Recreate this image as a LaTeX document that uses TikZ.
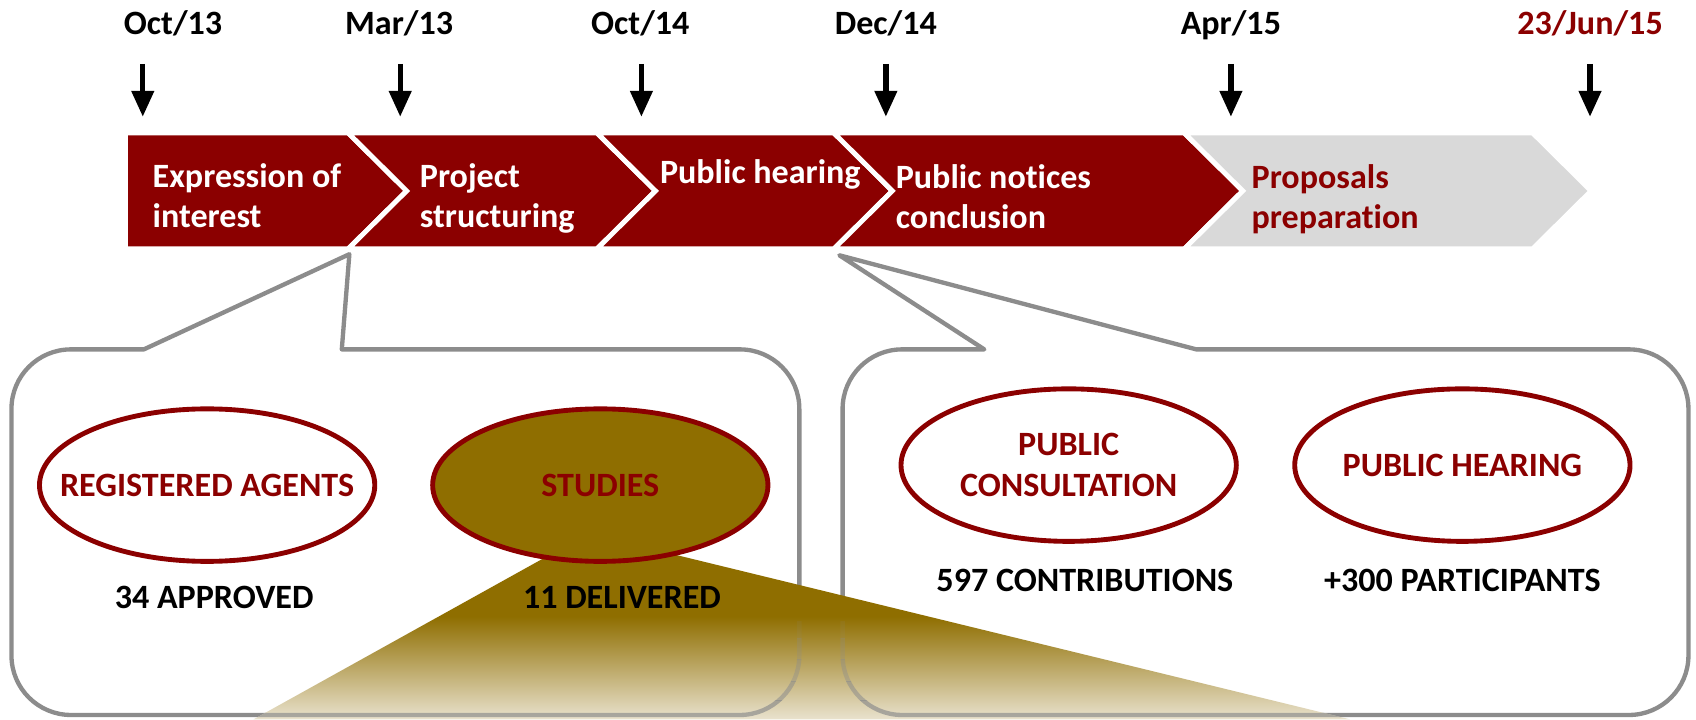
\documentclass[tikz,border=0pt]{standalone}
\usepackage{fontspec}
\setmainfont{Carlito}[Ligatures=NoCommon]
\usepackage{xcolor}
\usepackage{tikz}
\usetikzlibrary{shapes.geometric,arrows.meta}

\definecolor{darkred}{RGB}{139,0,0}
\definecolor{stagegrey}{RGB}{217,217,217}
\definecolor{callgrey}{RGB}{140,140,140}
\definecolor{studyolive}{RGB}{143,110,0}
\definecolor{wedgelight}{RGB}{233,226,206}
\pgfdeclareverticalshading{wedgeshade}{100bp}{color(0bp)=(wedgelight); color(25bp)=(wedgelight);
  color(54.7bp)=(studyolive); color(100bp)=(studyolive)}
% outlines of the two callouts
\newcommand{\leftcall}{(133,323) -- (lapex) -- (316,323) -- (684,323) arc[start angle=-90,end angle=0,radius=55]
  -- (739,606) arc[start angle=0,end angle=90,radius=55] -- (65.6,661) arc[start angle=90,end angle=180,radius=55]
  -- (10.6,378) arc[start angle=180,end angle=270,radius=55] -- cycle}
\newcommand{\rightcall}{(910,323) -- (rapex) -- (1106,323) -- (1506,323) arc[start angle=-90,end angle=0,radius=55]
  -- (1561,606) arc[start angle=0,end angle=90,radius=55] -- (834,661) arc[start angle=90,end angle=180,radius=55]
  -- (779,378) arc[start angle=180,end angle=270,radius=55] -- cycle}

\begin{document}
\begin{tikzpicture}[x=1pt,y=-1pt,
  txt/.style={font=\bfseries\fontsize{31.5}{37.5}\selectfont, inner sep=0pt},
  datelbl/.style={txt, anchor=base},
  datearrow/.style={-{Triangle[width=20pt,length=24pt]}, line width=5pt},
  stage/.style={draw=white, line width=4.5pt, fill=darkred},
  stagetxt/.style={txt, text=white, align=left, anchor=base west},
  callout/.style={draw=callgrey, line width=4pt, line join=round},
  oval/.style={ellipse, draw=darkred, line width=4.5pt, minimum width=310pt, minimum height=141pt, inner sep=0pt},
  ovaltxt/.style={txt, text=darkred, align=center},
  tally/.style={txt, anchor=base}]
\useasboundingbox (0,0) rectangle (1568,665);

% dates
\node[datelbl] (d1) at (160,32) {Oct/13};
\node[datelbl] (d2) at (369,32) {Mar/13};
\node[datelbl] (d3) at (592,32) {Oct/14};
\node[datelbl] (d4) at (819,32) {Dec/14};
\node[datelbl] (d5) at (1138,32) {Apr/15};
\node[datelbl, text=darkred] (d6) at (1470,32) {23/Jun/15};

% arrows
\coordinate (a1) at (132,59);  \coordinate (b1) at (132,108);
\coordinate (a2) at (370,59);  \coordinate (b2) at (370,108);
\coordinate (a3) at (593,59);  \coordinate (b3) at (593,108);
\coordinate (a4) at (819,59);  \coordinate (b4) at (819,108);
\coordinate (a5) at (1138,59); \coordinate (b5) at (1138,108);
\coordinate (a6) at (1470,59); \coordinate (b6) at (1470,108);
\draw[datearrow] (a1) -- (b1);
\draw[datearrow] (a2) -- (b2);
\draw[datearrow] (a3) -- (b3);
\draw[datearrow] (a4) -- (b4);
\draw[datearrow] (a5) -- (b5);
\draw[datearrow] (a6) -- (b6);

% stages
\draw[stage] (116,123) -- (322,123) -- (376,176.5) -- (322,230) -- (116,230) -- cycle;
\draw[stage] (322,123) -- (552,123) -- (606,176.5) -- (552,230) -- (322,230) -- (376,176.5) -- cycle;
\draw[stage] (552,123) -- (771,123) -- (825,176.5) -- (771,230) -- (552,230) -- (606,176.5) -- cycle;
\draw[stage] (771,123) -- (1095,123) -- (1149,176.5) -- (1095,230) -- (771,230) -- (825,176.5) -- cycle;
\draw[stage, fill=stagegrey] (1095,123) -- (1417,123) -- (1471,176.5) -- (1417,230) -- (1095,230) -- (1149,176.5) -- cycle;
\node[stagetxt] (s1) at (141,210.5) {Expression of\\interest};
\node[stagetxt] (s2) at (388,210.5) {Project\\structuring};
\node[stagetxt] (s3) at (610,170) {Public hearing};
\node[stagetxt] (s4) at (828,211.5) {Public notices\\conclusion};
\node[stagetxt, text=darkred] (s5) at (1157,211.5) {Proposals\\preparation};

% callouts
\coordinate (lapex) at (323,235);
\coordinate (rapex) at (776,236);
\draw[callout, fill=white] \leftcall;
\draw[callout, fill=white] \rightcall;

% studies wedge
\coordinate (wtl) at (522.6,505);
\coordinate (wtr) at (592,505);
\coordinate (wbr) at (1248,665);
\coordinate (wbl) at (234.5,665);
\shade[shading=wedgeshade] (wtl) -- (wtr) -- (wbr) -- (wbl) -- cycle;
% box edges showing through the pale part
\foreach \ya/\yb/\op in {575/590/0.1, 590/610/0.25, 610/630/0.4, 630/648/0.55, 648/666/0.68}{
  \begin{scope}
    \clip (wtl) -- (wtr) -- (wbr) -- (wbl) -- cycle;
    \clip (0,\ya) rectangle (1568,\yb);
    \draw[callout, draw opacity=\op] \leftcall;
    \draw[callout, draw opacity=\op] \rightcall;
  \end{scope}
}

% ellipses
\node[oval] (agents) at (191.5,448.5) {};
\node[oval, fill=studyolive] (studies) at (555,448.5) {};
\node[oval] (consult) at (988,430) {};
\node[oval] (hearing) at (1352,430) {};
\node[ovaltxt] (agentslbl) at (agents) {REGISTERED AGENTS};
\node[ovaltxt] (studieslbl) at (studies) {STUDIES};
\node[ovaltxt] (consultlbl) at (consult) {PUBLIC\\CONSULTATION};
\node[ovaltxt] (hearinglbl) at (hearing) {PUBLIC HEARING};

% numbers
\node[tally] (approved) at (198,563) {34 APPROVED};
\node[tally] (delivered) at (575,563) {11 DELIVERED};
\node[tally] (contrib) at (1003,547) {597 CONTRIBUTIONS};
\node[tally] (particip) at (1352,547) {+300 PARTICIPANTS};
\end{tikzpicture}
\end{document}
